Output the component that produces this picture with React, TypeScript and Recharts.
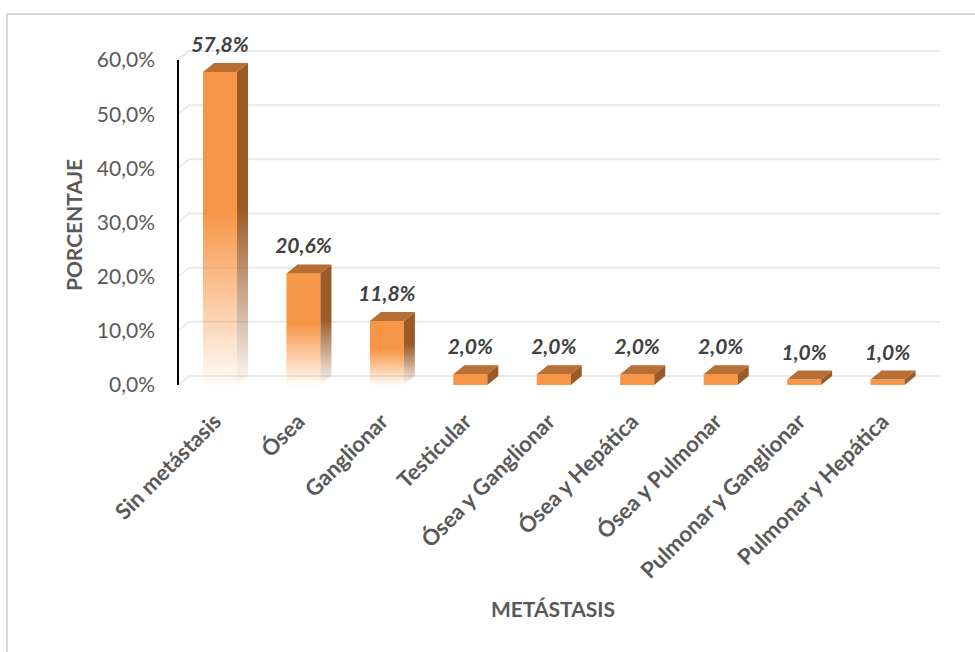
import { Bar, BarChart, CartesianGrid, LabelList, XAxis, YAxis } from 'recharts';

const categories = [
  'Sin metástasis',
  'Ósea',
  'Ganglionar',
  'Testicular',
  'Ósea y Ganglionar',
  'Ósea y Hepática',
  'Ósea y Pulmonar',
  'Pulmonar y Ganglionar',
  'Pulmonar y Hepática',
];
const percentages = [57.8, 20.6, 11.8, 2.0, 2.0, 2.0, 2.0, 1.0, 1.0];
const yTicks = [0, 10, 20, 30, 40, 50, 60];

const data = categories.map((name, i) => ({ name, value: percentages[i] }));

const FONT = 'Lato, "Open Sans", sans-serif';
const TEXT = '#595959';
const DX = 11;
const DY = 9;

const fmt = (v: number) => `${v.toFixed(1).replace('.', ',')}%`;

function Box3D(props: any) {
  const { x, y, width: w, height: h } = props;
  if (h == null || w == null) return null;
  const small = h < 30;
  return (
    <g>
      <rect x={x} y={y} width={w} height={h} fill={small ? '#F79646' : 'url(#frontFade)'} />
      <polygon
        points={`${x + w},${y} ${x + w + DX},${y - DY} ${x + w + DX},${y + h - DY} ${x + w},${y + h}`}
        fill={small ? '#9C5A27' : 'url(#sideFade)'}
      />
      <polygon
        points={`${x},${y} ${x + DX},${y - DY} ${x + w + DX},${y - DY} ${x + w},${y}`}
        fill="#B96F33"
      />
    </g>
  );
}

function GridLine(props: any) {
  const { x1, x2, y1 } = props;
  return (
    <path
      key={props.key ?? `g-${y1}`}
      d={`M${x1},${y1} L${x1 + DX},${y1 - DY} L${x2 + DX},${y1 - DY}`}
      stroke="#e9e9e9"
      strokeWidth={2}
      fill="none"
    />
  );
}

function CategoryTick(props: any) {
  const { x, y, payload } = props;
  const tx = x + 3;
  const ty = y + 38;
  return (
    <text
      x={tx}
      y={ty}
      transform={`rotate(-45 ${tx} ${ty})`}
      textAnchor="end"
      fontFamily={FONT}
      fontWeight={700}
      fontSize={22}
      fill={TEXT}
    >
      {payload.value}
    </text>
  );
}

function ValueLabel(props: any) {
  const { x, y, width, value } = props;
  return (
    <text
      x={x + width / 2}
      y={y - 20}
      textAnchor="middle"
      fontFamily={FONT}
      fontWeight={700}
      fontStyle="italic"
      fontSize={21}
      fill="#404040"
    >
      {fmt(value)}
    </text>
  );
}

export default function App() {
  return (
    <div
      style={{
        position: 'absolute',
        left: 0,
        top: 0,
        width: 975,
        height: 652,
        overflow: 'hidden',
        background: '#fff',
        fontFamily: FONT,
      }}
    >
      <div
        style={{
          position: 'absolute',
          left: 6,
          top: 13,
          width: 1100,
          height: 800,
          border: '2px solid #d9d9d9',
        }}
      />
      <div style={{ position: 'absolute', left: 0, top: 0 }}>
        <BarChart
          width={975}
          height={652}
          data={data}
          margin={{ top: 60, right: 46, bottom: 0, left: 0 }}
        >
          <defs>
            <linearGradient id="frontFade" x1="0" y1="0" x2="0" y2="1">
              <stop offset="0%" stopColor="#F79646" />
              <stop offset="45%" stopColor="#F79646" />
              <stop offset="100%" stopColor="#F79646" stopOpacity={0.04} />
            </linearGradient>
            <linearGradient id="sideFade" x1="0" y1="0" x2="0" y2="1">
              <stop offset="0%" stopColor="#9C5A27" />
              <stop offset="45%" stopColor="#9C5A27" />
              <stop offset="100%" stopColor="#9C5A27" stopOpacity={0.04} />
            </linearGradient>
          </defs>
          <CartesianGrid vertical={false} horizontal={GridLine as any} />
          <XAxis
            dataKey="name"
            axisLine={false}
            tickLine={false}
            tickSize={0}
            tickMargin={0}
            height={267}
            interval={0}
            tick={<CategoryTick />}
          />
          <YAxis
            domain={[0, 60]}
            ticks={yTicks}
            width={178}
            tickLine={false}
            tickSize={0}
            tickMargin={23}
            axisLine={{ stroke: '#000', strokeWidth: 2 }}
            tickFormatter={fmt}
            tick={{ fontFamily: FONT, fontSize: 21, fill: TEXT }}
          />
          <Bar dataKey="value" barSize={34} shape={<Box3D />} isAnimationActive={false}>
            <LabelList dataKey="value" content={<ValueLabel />} />
          </Bar>
        </BarChart>
      </div>
      <div
        style={{
          position: 'absolute',
          left: 73,
          top: 225,
          transform: 'translate(-50%, -50%) rotate(-90deg)',
          fontWeight: 700,
          fontSize: 21,
          color: TEXT,
          whiteSpace: 'nowrap',
        }}
      >
        PORCENTAJE
      </div>
      <div
        style={{
          position: 'absolute',
          left: 553,
          top: 608,
          transform: 'translate(-50%, -50%)',
          fontWeight: 700,
          fontSize: 21,
          color: TEXT,
          whiteSpace: 'nowrap',
        }}
      >
        METÁSTASIS
      </div>
    </div>
  );
}
